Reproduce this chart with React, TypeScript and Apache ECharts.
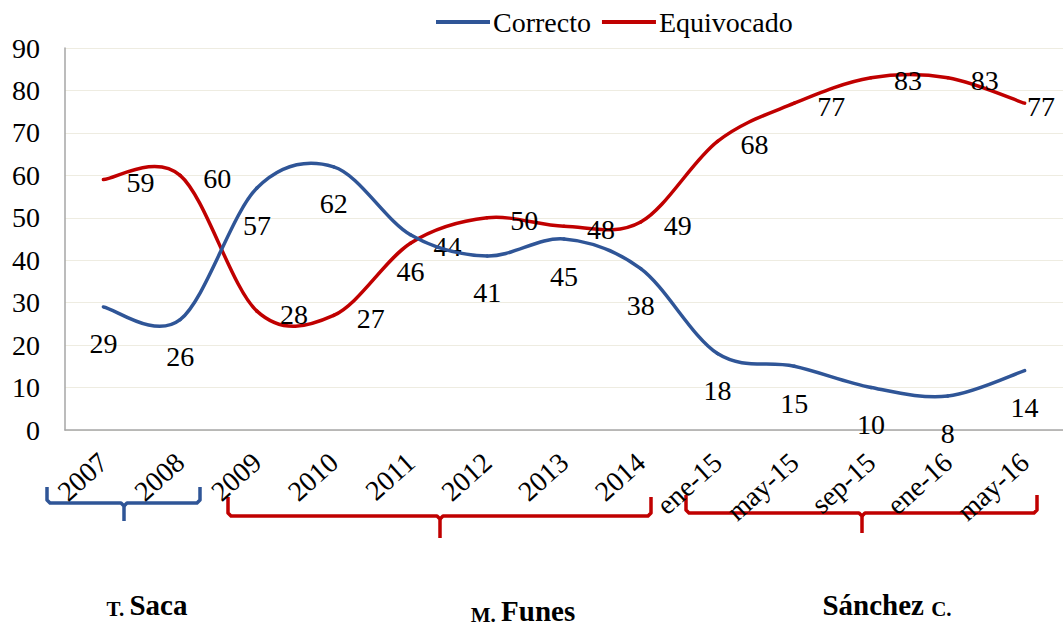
import React, { useEffect, useRef } from "react";
import * as echarts from "echarts";

const categories = ["2007", "2008", "2009", "2010", "2011", "2012", "2013", "2014", "ene-15", "may-15", "sep-15", "ene-16", "may-16"];
const correcto = [29, 26, 57, 62, 46, 41, 45, 38, 18, 15, 10, 8, 14];
const equivocado = [59, 60, 28, 27, 44, 50, 48, 49, 68, 77, 83, 83, 77];
const yTicks = { min: 0, max: 90, interval: 10 };

const FONT_NAME = "Liberation Serif";
const FONT = '"Liberation Serif", "Times New Roman", serif';
const BLUE = "#2F5597";
const RED = "#C00000";

function brace(x0: number, x1: number, cx: number, top: number, hy: number, bot: number, color: string) {
  const style = { stroke: color, lineWidth: 3.5, fill: "none", lineJoin: "round" as const, lineCap: "butt" as const };
  return [
    {
      type: "polyline",
      shape: { points: [[x0, top], [x0, hy - 3], [x0 + 3, hy], [cx - 3, hy], [cx, hy + 3], [cx, bot]] },
      style,
      silent: true,
    },
    {
      type: "polyline",
      shape: { points: [[cx, hy + 3], [cx + 3, hy], [x1 - 3, hy], [x1, hy - 3], [x1, top]] },
      style,
      silent: true,
    },
  ];
}

function richLabel(cx: number, cy: number, text: string) {
  return {
    type: "text",
    x: cx,
    y: cy,
    style: {
      text,
      align: "center",
      verticalAlign: "middle",
      fontFamily: FONT_NAME,
      fontWeight: "bold",
      fontSize: 29,
      fill: "#000",
      rich: {
        s: { fontFamily: FONT_NAME, fontWeight: "bold", fontSize: 21, fill: "#000", lineHeight: 24, verticalAlign: "bottom" },
        b: { fontFamily: FONT_NAME, fontWeight: "bold", fontSize: 29, fill: "#000", lineHeight: 24, verticalAlign: "bottom" },
      },
    },
    silent: true,
  };
}

// Excel-like smoothed curve (cardinal spline, tension 1/6) drawn through the axis scales.
function makeCurveSeries(name: string, values: number[], color: string, labelOffset: [number, number], z: number) {
  return {
    name,
    type: "custom",
    z,
    itemStyle: { color },
    data: values.map((v, i) => [i, v]),
    encode: { x: 0, y: 1 },
    renderItem: (params: any, api: any) => {
      const i = params.dataIndex;
      const n = values.length;
      const pt = (k: number) => api.coord([Math.max(0, Math.min(n - 1, k)), values[Math.max(0, Math.min(n - 1, k))]]);
      const children: any[] = [];
      const p1 = pt(i);
      if (i < n - 1) {
        const p0 = pt(i - 1);
        const p2 = pt(i + 1);
        const p3 = pt(i + 2);
        const c1 = [p1[0] + (p2[0] - p0[0]) / 6, p1[1] + (p2[1] - p0[1]) / 6];
        const c2 = [p2[0] - (p3[0] - p1[0]) / 6, p2[1] - (p3[1] - p1[1]) / 6];
        children.push({
          type: "bezierCurve",
          shape: { x1: p1[0], y1: p1[1], x2: p2[0], y2: p2[1], cpx1: c1[0], cpy1: c1[1], cpx2: c2[0], cpy2: c2[1] },
          style: { stroke: color, lineWidth: 3.5, fill: "none", lineCap: "round" },
        });
      }
      const w = api.getWidth();
      let lx = p1[0] + labelOffset[0];
      lx = Math.min(lx, w - 22);
      children.push({
        type: "text",
        x: lx,
        y: p1[1] + labelOffset[1],
        z2: 10,
        style: {
          text: String(values[i]),
          fontFamily: FONT_NAME,
          fontSize: 28,
          fill: "#000",
          align: "center",
          verticalAlign: "middle",
        },
      });
      return { type: "group", children };
    },
  };
}

export default function App() {
  const ref = useRef<HTMLDivElement>(null);
  useEffect(() => {
    if (!ref.current) return;
    const chart = echarts.init(ref.current, null, { renderer: "svg" });
    chart.setOption({
      animation: false,
      backgroundColor: "#fff",
      textStyle: { fontFamily: FONT },
      legend: {
        left: 431,
        top: 3,
        icon: "rect",
        itemWidth: 54,
        itemHeight: 4,
        itemGap: 11,
        textStyle: { fontFamily: FONT, fontSize: 28, color: "#000", padding: [0, 0, 0, -2] },
        data: ["Correcto", "Equivocado"],
      },
      grid: { left: 65, right: 0, top: 48, bottom: 196, containLabel: false },
      xAxis: {
        type: "category",
        data: categories,
        boundaryGap: true,
        axisLine: { lineStyle: { color: "#A6A6A6", width: 1.5 } },
        axisTick: { show: false },
        axisLabel: { interval: 0, rotate: 42, fontFamily: FONT, fontSize: 28, color: "#000", margin: 28 },
      },
      yAxis: {
        type: "value",
        min: yTicks.min,
        max: yTicks.max,
        interval: yTicks.interval,
        axisLine: { show: true, lineStyle: { color: "#A6A6A6", width: 1.5 } },
        axisTick: { show: false },
        splitLine: { lineStyle: { color: "#EEECE1", width: 1 } },
        axisLabel: { fontFamily: FONT, fontSize: 28, color: "#000", margin: 25 },
      },
      series: [
        makeCurveSeries("Correcto", correcto, BLUE, [0, 37], 3),
        makeCurveSeries("Equivocado", equivocado, RED, [37, 3], 2),
      ],
      graphic: [
        ...brace(47, 200, 124, 487, 503, 521, BLUE),
        ...brace(228, 651, 440, 497, 516, 538, RED),
        ...brace(686, 1037, 862, 495, 513, 533, RED),
        richLabel(147, 607, "{s|T. }{b|Saca}"),
        richLabel(523, 613, "{s|M. }{b|Funes}"),
        richLabel(887, 607, "{b|Sánchez }{s|C.}"),
      ],
    });
    return () => chart.dispose();
  }, []);
  return <div ref={ref} style={{ position: "fixed", left: 0, top: 0, width: 1063, height: 626 }} />;
}
